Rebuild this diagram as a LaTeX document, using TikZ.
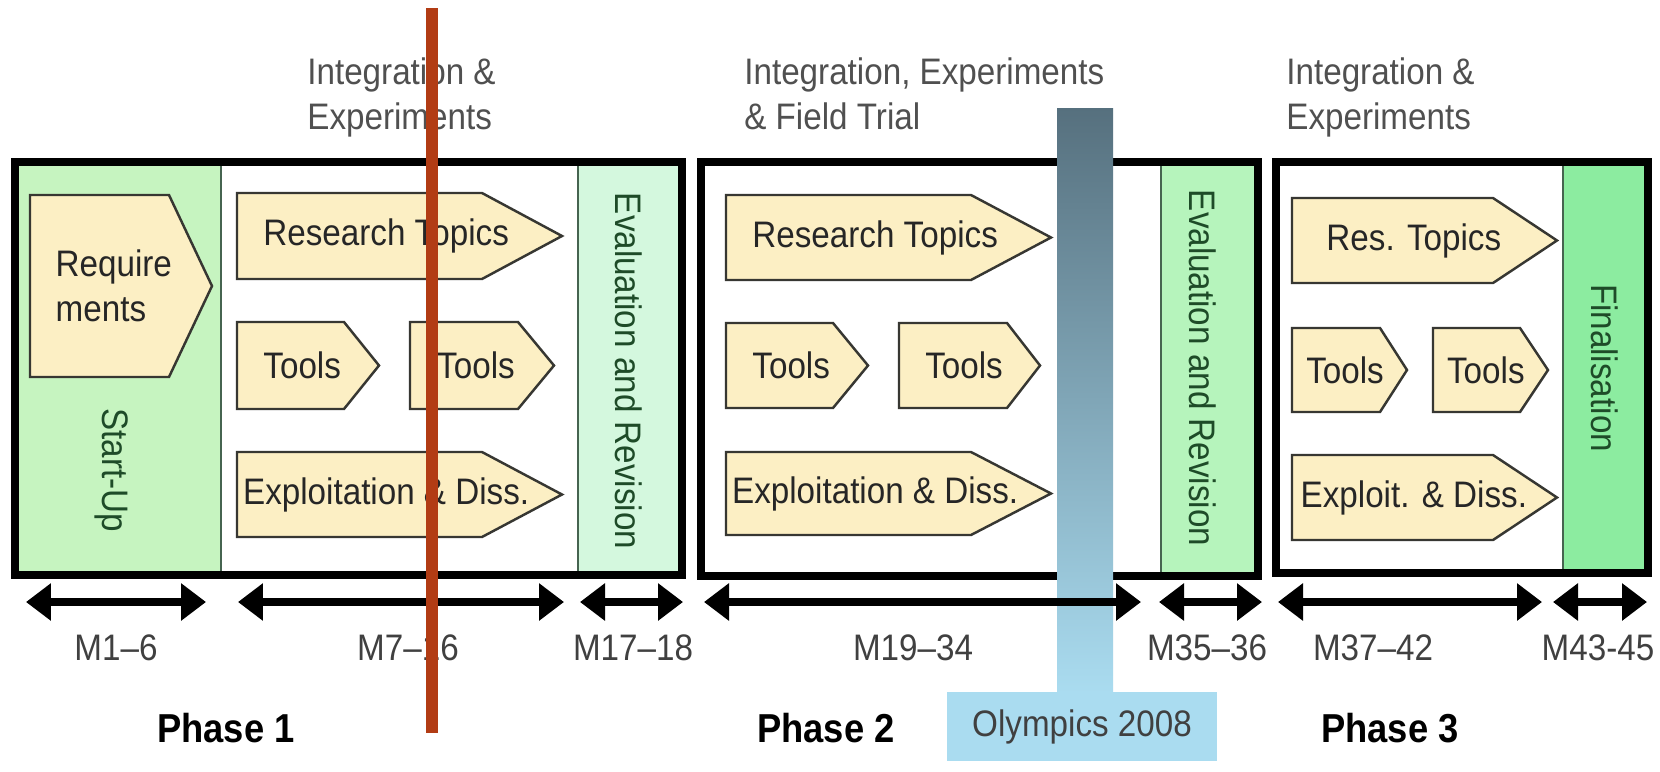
\documentclass[tikz,border=0pt]{standalone}
\usepackage{fontspec}
\setmainfont{Liberation Sans}[FakeStretch=0.9]
\usepackage{tikz}
\usetikzlibrary{arrows.meta}
\definecolor{tagfill}{RGB}{252,239,196}
\definecolor{tagline}{RGB}{55,55,50}
\definecolor{startgreen}{RGB}{198,244,192}
\definecolor{evalgreen}{RGB}{212,248,222}
\definecolor{evalgreenb}{RGB}{182,244,188}
\definecolor{finalgreen}{RGB}{140,236,160}
\definecolor{colline}{RGB}{70,100,80}
\definecolor{coltextc}{RGB}{30,75,40}
\definecolor{headgray}{RGB}{80,80,80}
\definecolor{olyblue}{RGB}{170,220,240}
\definecolor{olydark}{RGB}{86,112,126}
\definecolor{markred}{RGB}{178,60,20}
\newcommand{\boxfont}{\fontsize{21}{25.6}\selectfont}
\newcommand{\phasefont}{\fontsize{23}{27}\selectfont}
\tikzset{phasebox/.style={draw=black,line width=4.5pt},
	column/.style={draw=colline,line width=0.8pt},
	tagshape/.style={draw=tagline,fill=tagfill,line width=1.4pt,line join=miter},
	tagtext/.style={inner sep=0pt,align=left,font=\boxfont,text=black!85},
	coltext/.style={inner sep=0pt,font=\boxfont,rotate=-90,text=coltextc},
	headtext/.style={anchor=north west,align=left,inner sep=0pt,font=\boxfont,text=headgray},
	span/.style={line width=4.5pt,{Triangle[length=0.5cm,width=0.72cm]}-{Triangle[length=0.5cm,width=0.72cm]}},
	monthtext/.style={inner sep=0pt,font=\boxfont,text=black!75},
	phasetext/.style={inner sep=0pt,font=\phasefont\bfseries},
	olybox/.style={fill=olyblue,minimum width=5.4cm,minimum height=1.38cm,inner sep=0pt,font=\boxfont,text=black!75}}
% pentagon: name, left, top, body end, tip, bottom, text
\newcommand{\tagbox}[7]{%
	\draw[tagshape] (#2,-#3) -- (#4,-#3) -- (#5,{-(#3+#6)/2}) -- (#4,-#6) -- (#2,-#6) -- cycle;
	\node[tagtext] (#1) at ({(#2+#4)/2+(#5-#4)/3},{-(#3+#6)/2}) {#7};}

\begin{document}
\begin{tikzpicture}[x=0.02cm,y=0.02cm]
	\useasboundingbox (0,0) rectangle (1660,-771);
	\fill[white] (0,0) rectangle (1660,-771);
	%
	\node[headtext] (head1) at (307,-57) {Integration \&\\Experiments};
	\node[headtext] (head2) at (744,-57) {Integration, Experiments\\\& Field Trial};
	\node[headtext] (head3) at (1286,-57) {Integration \&\\Experiments};
	%
	\filldraw[column,fill=startgreen] (15,-162) rectangle (221,-575);
	\filldraw[column,fill=evalgreen] (578,-162) rectangle (682,-575);
	\filldraw[column,fill=evalgreenb] (1161,-162) rectangle (1258,-576);
	\filldraw[column,fill=finalgreen] (1563,-162) rectangle (1648,-573);
	\node[coltext] (startup) at (112,-470) {Start-Up};
	\node[coltext] (eval1) at (629,-371) {Evaluation and Revision};
	\node[coltext] (eval2) at (1203,-368) {Evaluation and Revision};
	\node[coltext] (final) at (1605,-368) {Finalisation};
	%
	\tagbox{req}{30}{195}{169}{212}{377}{Require\\ments}
	\tagbox{res1}{237}{193}{482}{562}{279}{Research Topics}
	\tagbox{toolsa1}{237}{322}{344}{379}{409}{Tools}
	\tagbox{toolsb1}{410}{322}{518}{554}{409}{Tools}
	\tagbox{expl1}{237}{452}{482}{562}{537}{Exploitation \& Diss.}
	\tagbox{res2}{726}{195}{971}{1051}{280}{Research Topics}
	\tagbox{toolsa2}{726}{323}{833}{868}{408}{Tools}
	\tagbox{toolsb2}{899}{323}{1007}{1040}{408}{Tools}
	\tagbox{expl2}{726}{452}{971}{1051}{535}{Exploitation \& Diss.}
	\tagbox{res3}{1292}{198}{1493}{1557}{283}{Res. Topics}
	\tagbox{toolsa3}{1292}{328}{1380}{1407}{412}{Tools}
	\tagbox{toolsb3}{1433}{328}{1520}{1548}{412}{Tools}
	\tagbox{expl3}{1292}{455}{1493}{1557}{540}{Exploit. \& Diss.}
	%
	\draw[phasebox] (15,-162) rectangle (682,-575);
	\draw[phasebox] (701,-162) rectangle (1258,-576);
	\draw[phasebox] (1276,-162) rectangle (1648,-573);
	%
	\shade[top color=olydark,bottom color=olyblue] (1057,-108) rectangle (1113,-693);
	\node[olybox] (oly) at (1082,-726.5) {Olympics 2008};
	%
	\coordinate (m1l) at (26,-602);   \coordinate (m1r) at (206,-602);
	\coordinate (m7l) at (238,-602);  \coordinate (m7r) at (564,-602);
	\coordinate (m17l) at (580,-602); \coordinate (m17r) at (683,-602);
	\coordinate (m19l) at (704,-602); \coordinate (m19r) at (1141,-602);
	\coordinate (m35l) at (1159,-602);\coordinate (m35r) at (1262,-602);
	\coordinate (m37l) at (1278,-602);\coordinate (m37r) at (1542,-602);
	\coordinate (m43l) at (1553,-602);\coordinate (m43r) at (1647,-602);
	\draw[span] (m1l) -- (m1r);
	\draw[span] (m7l) -- (m7r);
	\draw[span] (m17l) -- (m17r);
	\draw[span] (m19l) -- (m19r);
	\draw[span] (m35l) -- (m35r);
	\draw[span] (m37l) -- (m37r);
	\draw[span] (m43l) -- (m43r);
	\node[monthtext] (m1) at (116,-648) {M1--6};
	\node[monthtext] (m7) at (408,-648) {M7--16};
	\node[monthtext] (m17) at (633,-648) {M17--18};
	\node[monthtext] (m19) at (913,-648) {M19--34};
	\node[monthtext] (m35) at (1207,-648) {M35--36};
	\node[monthtext] (m37) at (1373,-648) {M37--42};
	\node[monthtext] (m43) at (1598,-648) {M43-45};
	%
	\node[phasetext] (phase1) at (226,-728) {Phase 1};
	\node[phasetext] (phase2) at (826,-728) {Phase 2};
	\node[phasetext] (phase3) at (1390,-728) {Phase 3};
	%
	\draw[markred,line width=0.24cm] (432,-8) -- (432,-733);
\end{tikzpicture}
\end{document}
